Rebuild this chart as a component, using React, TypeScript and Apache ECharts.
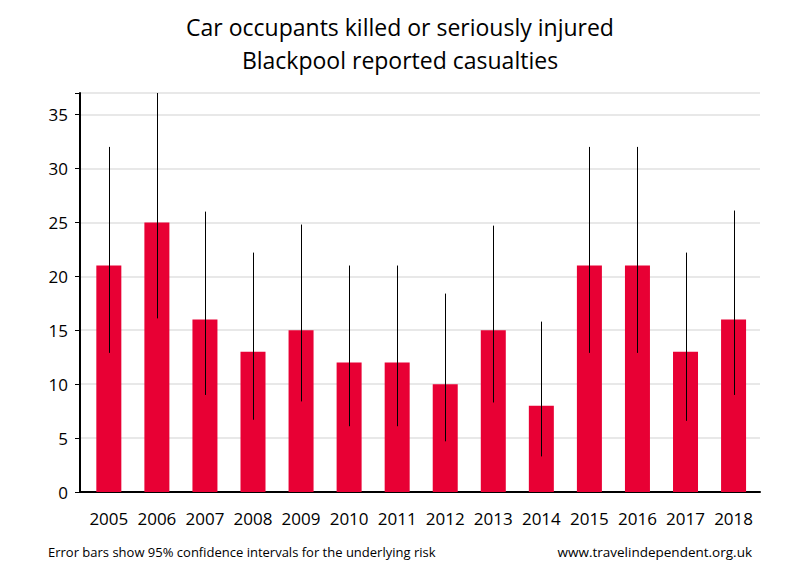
import React, { useEffect, useRef } from "react";
import * as echarts from "echarts";

const years = [2005, 2006, 2007, 2008, 2009, 2010, 2011, 2012, 2013, 2014, 2015, 2016, 2017, 2018];
const casualties = [21, 25, 16, 13, 15, 12, 12, 10, 15, 8, 21, 21, 13, 16];
const lowerCI = [12.9, 16.1, 9.0, 6.7, 8.4, 6.1, 6.1, 4.7, 8.3, 3.3, 12.9, 12.9, 6.6, 9.0];
const upperCI = [32.0, 37.0, 26.0, 22.2, 24.8, 21.0, 21.0, 18.4, 24.7, 15.8, 32.0, 32.0, 22.2, 26.1];
const yTicks = [0, 5, 10, 15, 20, 25, 30, 35];

const FONT = "'Open Sans', 'Noto Sans', sans-serif";

export default function App() {
  const ref = useRef<HTMLDivElement>(null);
  useEffect(() => {
    if (!ref.current) return;
    const chart = echarts.init(ref.current, null, { renderer: "svg" });
    chart.setOption({
      animation: false,
      backgroundColor: "#ffffff",
      grid: { left: 72, right: 40, top: 85, bottom: 88 },
      xAxis: {
        type: "value",
        min: 2004.4,
        max: 2018.55,
        splitLine: { show: false },
        axisTick: { show: false },
        axisLine: { show: true, lineStyle: { color: "#000", width: 2 } },
        axisLabel: {
          customValues: years,
          formatter: (v: number) => String(v),
          fontFamily: FONT,
          fontSize: 17,
          color: "#000",
          margin: 18,
        },
      },
      yAxis: {
        type: "value",
        min: 0,
        max: 37,
        interval: 5,
        axisLine: { show: true, lineStyle: { color: "#000", width: 2 } },
        axisTick: { show: true, length: 5, lineStyle: { color: "#000", width: 1 } },
        axisLabel: {
          customValues: yTicks,
          fontFamily: FONT,
          fontSize: 17,
          color: "#000",
          margin: 12,
        },
        splitLine: { show: true, lineStyle: { color: "#e8e8e8", width: 2 } },
      },
      series: [
        {
          type: "bar",
          data: years.map((y, i) => [y, casualties[i]]),
          barWidth: 25,
          itemStyle: { color: "#E80034" },
        },
        {
          type: "custom",
          data: years.map((y, i) => [y, lowerCI[i], upperCI[i]]),
          renderItem: (params: any, api: any) => {
            const x = api.value(0);
            const lo = api.coord([x, api.value(1)]);
            const hi = api.coord([x, api.value(2)]);
            return {
              type: "line",
              shape: { x1: Math.round(lo[0]) + 0.5, y1: lo[1], x2: Math.round(hi[0]) + 0.5, y2: hi[1] },
              style: { stroke: "#000", lineWidth: 1 },
            };
          },
          z: 5,
        },
      ],
      graphic: [
        {
          type: "text",
          x: 392,
          y: 2,
          style: {
            text: "Car occupants killed or seriously injured\nBlackpool reported casualties",
            fontFamily: FONT,
            fontSize: 23,
            lineHeight: 33,
            fill: "#000",
            textAlign: "center",
            textVerticalAlign: "top",
          },
        },
        {
          type: "text",
          left: 40,
          top: 537,
          style: { text: "Error bars show 95% confidence intervals for the underlying risk", fontFamily: FONT, fontSize: 13, fill: "#000" },
        },
        {
          type: "text",
          right: 48,
          top: 537,
          style: { text: "www.travelindependent.org.uk", fontFamily: FONT, fontSize: 13.5, fill: "#000" },
        },
      ],
    });
    return () => chart.dispose();
  }, []);
  return <div ref={ref} style={{ width: 792, height: 572 }} />;
}
